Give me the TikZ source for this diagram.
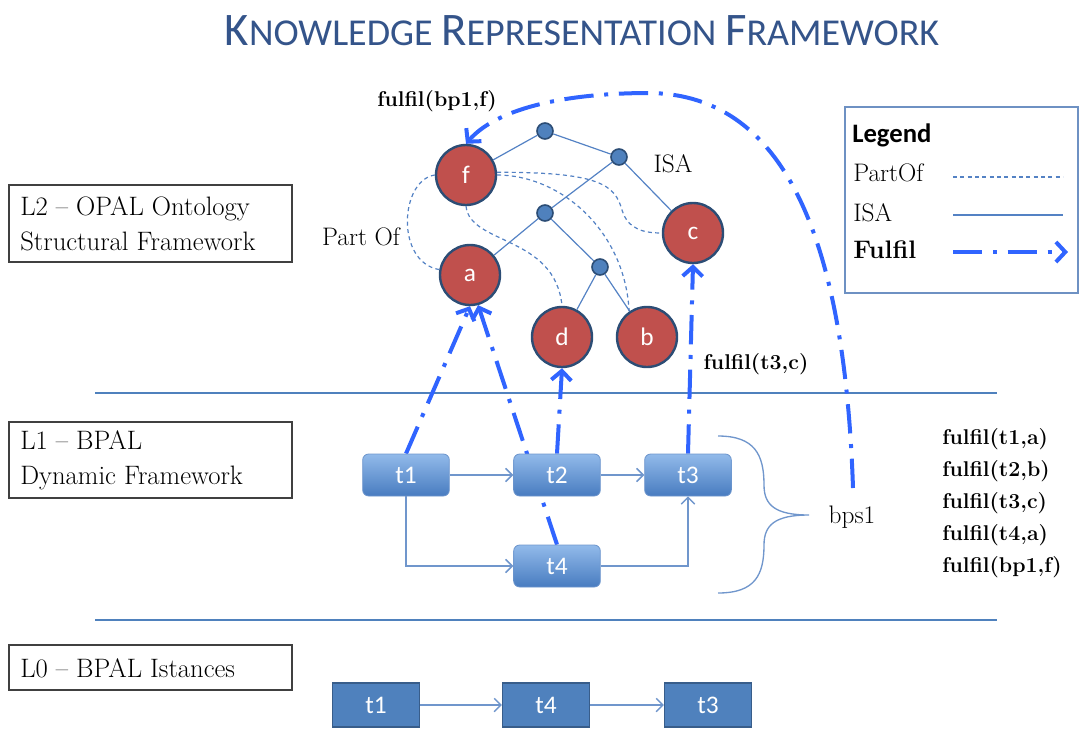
\documentclass[tikz,border=0pt]{standalone}
\usepackage{fontspec}
\usepackage{tikz}
\usetikzlibrary{arrows.meta, backgrounds}
\newfontfamily\carlito{Carlito}

\definecolor{conceptred}{RGB}{192,80,77}
\definecolor{conceptedge}{RGB}{44,77,117}
\definecolor{jointblue}{RGB}{79,129,189}
\definecolor{isablue}{RGB}{84,130,196}
\definecolor{fulfilblue}{RGB}{48,100,255}
\definecolor{tasktop}{RGB}{146,186,234}
\definecolor{taskbottom}{RGB}{72,124,192}
\definecolor{taskedge}{RGB}{110,150,205}
\definecolor{flowblue}{RGB}{112,150,204}
\definecolor{instfill}{RGB}{79,129,189}
\definecolor{instedge}{RGB}{56,93,138}
\definecolor{layerblue}{RGB}{79,129,189}
\definecolor{legendedge}{RGB}{110,145,195}
\definecolor{titleblue}{RGB}{52,84,138}

% small caps by hand: first letter big, rest smaller
\newcommand\capword[2]{{\fontsize{35}{35}\selectfont #1}{\fontsize{28.5}{28.5}\selectfont #2}}

\tikzset{
  concept/.style={circle, draw=conceptedge, line width=1.8pt, fill=conceptred, minimum size=45pt, inner sep=0pt, text=white, font=\carlito\fontsize{19}{19}\selectfont},
  joint/.style={circle, draw=conceptedge, line width=1.2pt, fill=jointblue, minimum size=12pt, inner sep=0pt},
  isa/.style={draw=isablue, line width=0.9pt},
  partof/.style={isa, dash pattern=on 3pt off 2.5pt},
  fulfil/.style={draw=fulfilblue, line width=3pt, dash pattern=on 22pt off 8pt on 3pt off 8pt, -{Straight Barb[length=7pt,width=15pt]}},
  task/.style={rounded corners=4.5pt, draw=taskedge, line width=0.6pt, top color=tasktop, bottom color=taskbottom, minimum width=65pt, minimum height=31.5pt, text=white, font=\carlito\fontsize{19}{19}\selectfont},
  instance/.style={draw=instedge, line width=1.2pt, fill=instfill, minimum width=65pt, minimum height=33pt, text=white, font=\carlito\fontsize{19}{19}\selectfont},
  flow/.style={draw=flowblue, line width=1.1pt, -{Straight Barb[length=5pt,width=10pt]}},
  layerbox/.style={draw=black!75, line width=1.1pt},
  layertext/.style={anchor=west, align=left, inner sep=0pt, font=\fontsize{20}{26}\selectfont},
  layerline/.style={draw=layerblue, line width=1.8pt},
  fulfiltext/.style={inner sep=0pt, font=\bfseries\fontsize{16}{24}\selectfont},
  plaintext/.style={inner sep=0pt, font=\fontsize{19}{19}\selectfont},
}

\begin{document}
\begin{tikzpicture}[x=0.75pt,y=0.75pt,yscale=-1,xscale=1]
\useasboundingbox (0,0) rectangle (1081,729);

% Title
\node[text=titleblue, font=\carlito\fontsize{28.5}{28.5}\selectfont] (title) at (582,31) {\capword{K}{NOWLEDGE} \capword{R}{EPRESENTATION} \capword{F}{RAMEWORK}};

% Layer boxes
\draw[layerbox] (9,185) rectangle (292,262);
\node[layertext] (l2) at (20,223.5) {L2 – OPAL Ontology\\Structural Framework};
\draw[layerbox] (9,422) rectangle (292,498);
\node[layertext] (l1) at (20,460) {L1 – BPAL\\Dynamic Framework};
\draw[layerbox] (9,645) rectangle (292,690);
\node[layertext] (l0) at (20,668) {L0 – BPAL Istances};

% Ontology concepts
\node[concept] (f) at (466,175) {f};
\node[concept] (a) at (470,275) {a};
\node[concept] (c) at (693,233) {c};
\node[concept] (d) at (562,337) {d};
\node[concept] (b) at (647,337) {b};
\node[joint] (j1) at (545,131) {};
\node[joint] (j2) at (619,157) {};
\node[joint] (j3) at (545,213) {};
\node[joint] (j4) at (600,267) {};

% ISA edges
\draw[isa] (f) -- (j1);
\draw[isa] (j1) -- (j2);
\draw[isa] (j2) -- (c);
\draw[isa] (j2) -- (j3);
\draw[isa] (j3) -- (a);
\draw[isa] (j3) -- (j4);
\draw[isa] (j4) -- (d);
\draw[isa] (j4) -- (b);

% PartOf edges
\draw[partof] (f.west) .. controls (400,180) and (395,262) .. (a.170);
\draw[partof] (f.south) .. controls (470,245) and (555,235) .. (d.north);
\draw[partof] (f.east) .. controls (560,175) and (625,230) .. (b.125);
\draw[partof] (f.5) .. controls (600,172) and (615,185) .. (622,210) .. controls (628,230) and (645,233) .. (c.west);

\node[plaintext] (partlbl) at (361,237) {Part Of};
\node[plaintext] (isalbl) at (673,164) {ISA};

% BPAL tasks
\node[task] (t1) at (406,475) {t1};
\node[task] (t2) at (557,475) {t2};
\node[task] (t3) at (688,475) {t3};
\node[task] (t4) at (557,566) {t4};
\draw[flow] (t1) -- (t2);
\draw[flow] (t2) -- (t3);
\draw[flow] (t1.south) |- (t4.west);
\draw[flow] (t4.east) -| (t3.south);

% brace round the process
\draw[draw=flowblue, line width=1pt] (718,436) .. controls (755,436) and (764,455) .. (764,485) .. controls (764,505) and (775,515) .. (809,515) .. controls (775,515) and (764,525) .. (764,545) .. controls (764,575) and (755,593) .. (718,593);
\node[plaintext] (bps) at (852,517) {bps1};

% instances
\node[instance] (i1) at (376,705) {t1};
\node[instance] (i4) at (546,705) {t4};
\node[instance] (i3) at (708,705) {t3};
\draw[flow] (i1) -- (i4);
\draw[flow] (i4) -- (i3);

% fulfil labels
\node[fulfiltext] (fbp) at (437,101) {fulfil(bp1,f)};
\node[fulfiltext] (ft3) at (756,364) {fulfil(t3,c)};
\node[fulfiltext, anchor=north west, align=left] (flist) at (942,428) {fulfil(t1,a)\\fulfil(t2,b)\\fulfil(t3,c)\\fulfil(t4,a)\\fulfil(bp1,f)};

% Legend
\draw[draw=legendedge, line width=1.2pt] (845,107) rectangle (1078,293);
\node[anchor=west, inner sep=0pt, font=\carlito\bfseries\fontsize{20}{20}\selectfont] (legtitle) at (852,135) {Legend};
\node[plaintext, anchor=west] (legpart) at (853,173) {PartOf};
\node[plaintext, anchor=west] (legisa) at (853,213) {ISA};
\node[plaintext, anchor=west, font=\bfseries\fontsize{19}{19}\selectfont] (legful) at (853,250) {Fulfil};
\coordinate (lpa) at (953,177);
\coordinate (lpb) at (1063,177);
\coordinate (lia) at (953,215);
\coordinate (lib) at (1063,215);
\coordinate (lfa) at (953,252);
\coordinate (lfb) at (1068,252);
\draw[partof] (lpa) -- (lpb);
\draw[isa] (lia) -- (lib);
\draw[fulfil] (lfa) -- (lfb);

% layer separators and fulfil links, behind the nodes
\begin{scope}[on background layer]
\draw[layerline] (95,393) -- (997,393);
\draw[layerline] (95,620) -- (997,620);
\coordinate (bpsend) at (853,488);
\draw[fulfil] (t1.north) -- (a.south);
\draw[fulfil] (t4.north) -- (a.-75);
\draw[fulfil] (t2.north) -- (d.south);
\draw[fulfil] (t3.north) -- (c.south);
\draw[fulfil] (bpsend) .. controls (845,250) and (790,95) .. (650,93) .. controls (560,93) and (495,110) .. (f.north);
\end{scope}

\end{tikzpicture}
\end{document}
